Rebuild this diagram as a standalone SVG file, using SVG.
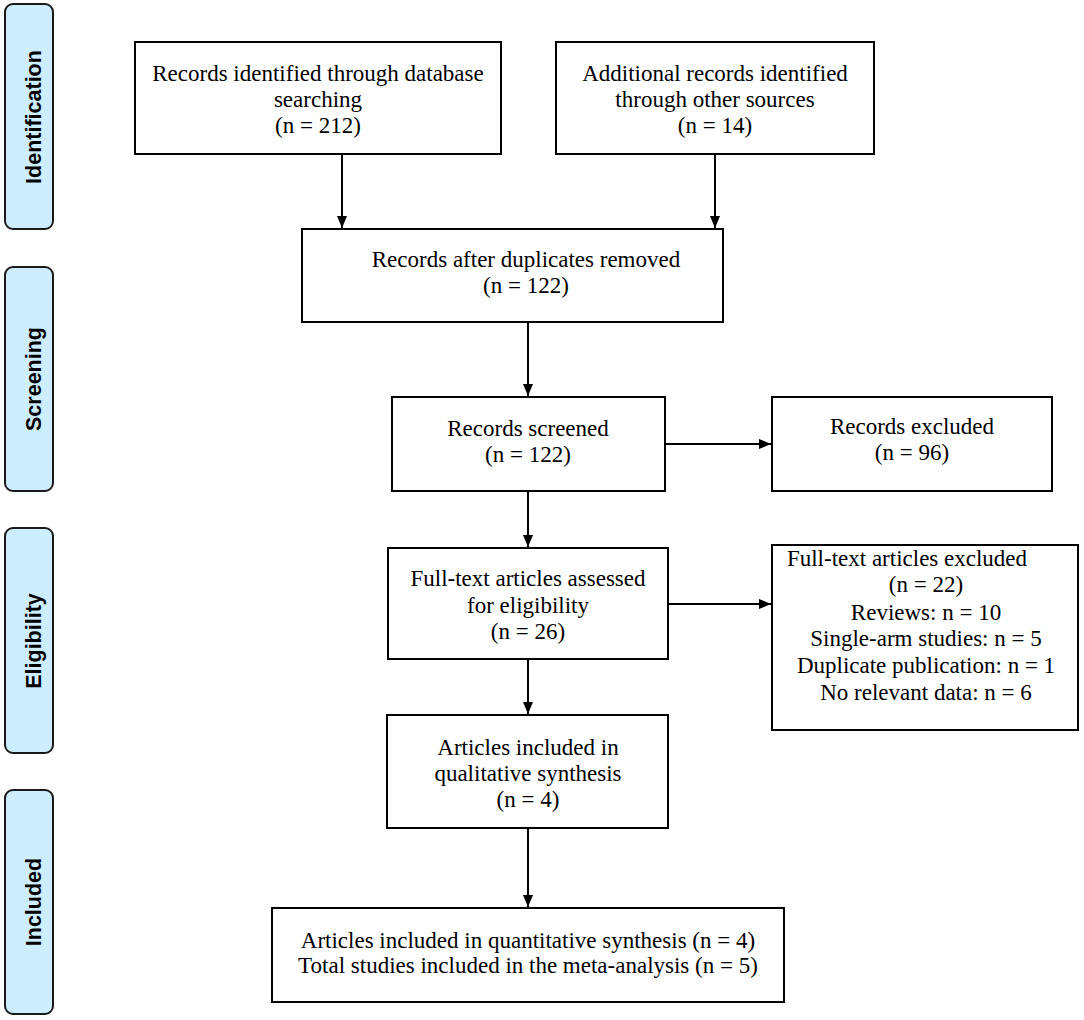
<svg xmlns="http://www.w3.org/2000/svg" width="1084" height="1020" viewBox="0 0 1084 1020">
<defs>
<marker id="ah" markerWidth="12" markerHeight="12" refX="12" refY="6" orient="auto" markerUnits="userSpaceOnUse" viewBox="0 0 12 12">
<path d="M0,1 L12,6 L0,11 Z" fill="#000"/>
</marker>
<style>
.box{fill:#fff;stroke:#000;stroke-width:2}
.side{fill:#cdeeff;stroke:#1a1a1a;stroke-width:2}
.t{font-family:"Liberation Serif","Times New Roman",serif;font-size:23px;fill:#000;text-anchor:middle}
.s{font-family:"Liberation Sans",Arial,sans-serif;font-size:21.5px;font-weight:bold;fill:#000;text-anchor:middle}
.c{stroke:#000;stroke-width:2;fill:none;marker-end:url(#ah)}
</style>
</defs>
<rect width="1084" height="1020" fill="#fff"/>
<g id="side-identification"><rect class="side" x="5" y="4" width="48" height="225" rx="8"/><text class="s" transform="translate(41,117) rotate(-90)">Identification</text></g>
<g id="side-screening"><rect class="side" x="5" y="267" width="48" height="224" rx="8"/><text class="s" transform="translate(41,379) rotate(-90)">Screening</text></g>
<g id="side-eligibility"><rect class="side" x="5" y="528" width="48" height="225" rx="8"/><text class="s" transform="translate(41,641) rotate(-90)">Eligibility</text></g>
<g id="side-included"><rect class="side" x="5" y="790" width="48" height="224" rx="8"/><text class="s" transform="translate(41,902) rotate(-90)">Included</text></g>

<g id="n1"><rect class="box" x="135" y="42" width="366" height="112"/>
<text class="t" x="318" y="81">Records identified through database</text>
<text class="t" x="318" y="107">searching</text>
<text class="t" x="318" y="133">(n = 212)</text></g>
<g id="n2"><rect class="box" x="556" y="42" width="318" height="112"/>
<text class="t" x="715" y="81">Additional records identified</text>
<text class="t" x="715" y="107">through other sources</text>
<text class="t" x="715" y="133">(n = 14)</text></g>
<g id="n3"><rect class="box" x="302" y="229" width="421" height="93"/>
<text class="t" x="526" y="267">Records after duplicates removed</text>
<text class="t" x="526" y="293">(n = 122)</text></g>
<g id="n4"><rect class="box" x="392" y="397" width="273" height="94"/>
<text class="t" x="528" y="436">Records screened</text>
<text class="t" x="528" y="462">(n = 122)</text></g>
<g id="n5"><rect class="box" x="772" y="397" width="280" height="94"/>
<text class="t" x="912" y="434">Records excluded</text>
<text class="t" x="912" y="460">(n = 96)</text></g>
<g id="n6"><rect class="box" x="388" y="548" width="280" height="111"/>
<text class="t" x="528" y="586">Full-text articles assessed</text>
<text class="t" x="528" y="613">for eligibility</text>
<text class="t" x="528" y="639">(n = 26)</text></g>
<g id="n7"><rect class="box" x="772" y="545" width="306" height="185"/>
<text class="t" x="907" y="566">Full-text articles excluded</text>
<text class="t" x="926" y="592">(n = 22)</text>
<text class="t" x="926" y="620">Reviews: n = 10</text>
<text class="t" x="926" y="646">Single-arm studies: n = 5</text>
<text class="t" x="926" y="673">Duplicate publication: n = 1</text>
<text class="t" x="926" y="700">No relevant data: n = 6</text></g>
<g id="n8"><rect class="box" x="387" y="715" width="281" height="113"/>
<text class="t" x="528" y="755">Articles included in</text>
<text class="t" x="528" y="781">qualitative synthesis</text>
<text class="t" x="528" y="807">(n = 4)</text></g>
<g id="n9"><rect class="box" x="272" y="908" width="512" height="94"/>
<text class="t" x="528" y="948">Articles included in quantitative synthesis (n = 4)</text>
<text class="t" x="528" y="973">Total studies included in the meta-analysis (n = 5)</text></g>

<g id="connectors">
<line class="c" x1="342" y1="154" x2="342" y2="228"/>
<line class="c" x1="715" y1="154" x2="715" y2="228"/>
<line class="c" x1="528" y1="322" x2="528" y2="396"/>
<line class="c" x1="665" y1="444" x2="771" y2="444"/>
<line class="c" x1="528" y1="491" x2="528" y2="547"/>
<line class="c" x1="668" y1="604" x2="771" y2="604"/>
<line class="c" x1="528" y1="659" x2="528" y2="714"/>
<line class="c" x1="528" y1="828" x2="528" y2="907"/>
</g>
</svg>
